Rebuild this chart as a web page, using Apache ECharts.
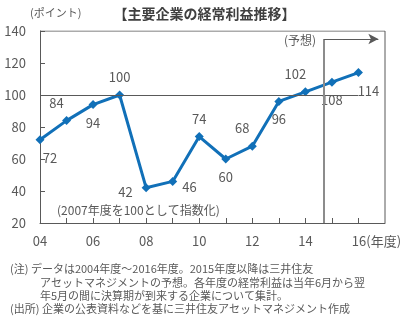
<!DOCTYPE html>
<html><head><meta charset="utf-8">
<script src="https://cdn.jsdelivr.net/npm/echarts@6/dist/echarts.min.js"></script>
<style>html,body{margin:0;padding:0;background:#fff}#c{width:409px;height:326px}</style>
</head><body><div id="c"></div>
<script>
var years = [2004,2005,2006,2007,2008,2009,2010,2011,2012,2013,2014,2015,2016];
var values = [72,84,94,100,42,46,74,60,68,96,102,108,114];
var labelPos = ['bottomRight','topLeft','bottom','top','left','right','top','bottom','topLeft','bottom','topLeft','bottom','bottomRight'];
var xTicks = {2004:'04',2006:'06',2008:'08',2010:'10',2012:'12',2014:'14',2016:'16'};
var yTicks = [20,40,60,80,100,120,140];
var forecastStart = 2014.7;
var txt = '#595959';
var font = '"Noto Sans CJK JP", sans-serif';
var posMap = {
  bottomRight:{position:'bottom',offset:[10,2]},
  topLeft:{position:'top',offset:[-10,-2]},
  bottom:{position:'bottom',offset:[0,2]},
  top:{position:'top',offset:[0,-2]},
  left:{position:'left',offset:[-4,4]},
  right:{position:'right',offset:[0,6]}
};
var data = years.map(function(y,i){
  var p = posMap[labelPos[i]];
  return {value:[y,values[i]], label:{position:p.position, offset:p.offset}};
});
var chart = echarts.init(document.getElementById('c'));
chart.setOption({
  animation:false,
  textStyle:{fontFamily:font},
  grid:{left:40,right:24,top:31,bottom:103},
  graphic:[
    {type:'text',left:'center',top:7,style:{text:'【主要企業の経常利益推移】',font:'bold 14px '+font,fill:'#404040'}},
    {type:'text',left:30,top:7,style:{text:'(ポイント)',font:'11px '+font,fill:txt}},
    {type:'text',left:10,top:263,style:{text:'(注) データは2004年度～2016年度。2015年度以降は三井住友',font:'11px '+font,fill:txt}},
    {type:'text',left:40,top:277,style:{text:'アセットマネジメントの予想。各年度の経常利益は当年6月から翌',font:'11px '+font,fill:txt}},
    {type:'text',left:40,top:290,style:{text:'年5月の間に決算期が到来する企業について集計。',font:'11px '+font,fill:txt}},
    {type:'text',left:10,top:303,style:{text:'(出所) 企業の公表資料などを基に三井住友アセットマネジメント作成',font:'11px '+font,fill:txt}},
    {type:'text',left:57,top:204,style:{text:'(2007年度を100として指数化)',font:'12px '+font,fill:txt}},
    {type:'text',left:284,top:34,style:{text:'(予想)',font:'12px '+font,fill:txt}}
  ],
  xAxis:{type:'value',min:2004,max:2017,interval:1,
    axisLine:{lineStyle:{color:'#595959',width:1}},
    axisTick:{show:true,inside:true,length:5,lineStyle:{color:'#595959'}},
    splitLine:{show:false},
    axisLabel:{color:txt,fontSize:13,margin:12,showMaxLabel:false,
      formatter:function(v){
        if(v===2016) return '{p|}{n|16}{u|(年度)}';
        return xTicks[v]||'';
      },
      rich:{p:{width:36,fontSize:13},n:{fontSize:13,color:txt},u:{fontSize:13,color:txt}}
    }
  },
  yAxis:{type:'value',min:20,max:140,interval:20,
    axisLine:{show:true,lineStyle:{color:'#595959'}},
    axisTick:{show:true,inside:true,length:5,lineStyle:{color:'#595959'}},
    splitLine:{show:false},
    axisLabel:{color:txt,fontSize:13,margin:14,formatter:function(v){return yTicks.indexOf(v)>=0?String(v):'';}}
  },
  series:[
    {type:'line',data:[[2004,140],[2017,140],[2017,20]],symbol:'none',silent:true,
      lineStyle:{color:'#595959',width:1},z:1},
    {type:'line',data:data,symbol:'diamond',symbolSize:9,
      lineStyle:{color:'#1170b8',width:3},itemStyle:{color:'#1170b8'},
      label:{show:true,color:txt,fontSize:13,formatter:function(p){return p.value[1];}},
      markLine:{silent:true,symbol:'none',label:{show:false},animation:false,
        data:[
          [{coord:[2004,100],lineStyle:{color:'#595959',width:1,type:'solid'}},{coord:[2016,100]}],
          [{coord:[forecastStart,135],lineStyle:{color:'#8c8c8c',width:2,type:'solid'}},{coord:[forecastStart,20]}],
          [{coord:[forecastStart,135],symbol:'none',lineStyle:{color:'#595959',width:1,type:'solid'}},{coord:[2016.75,135],symbol:'arrow',symbolSize:[8,10]}]
        ]},
      z:3}
  ]
});
</script></body></html>
